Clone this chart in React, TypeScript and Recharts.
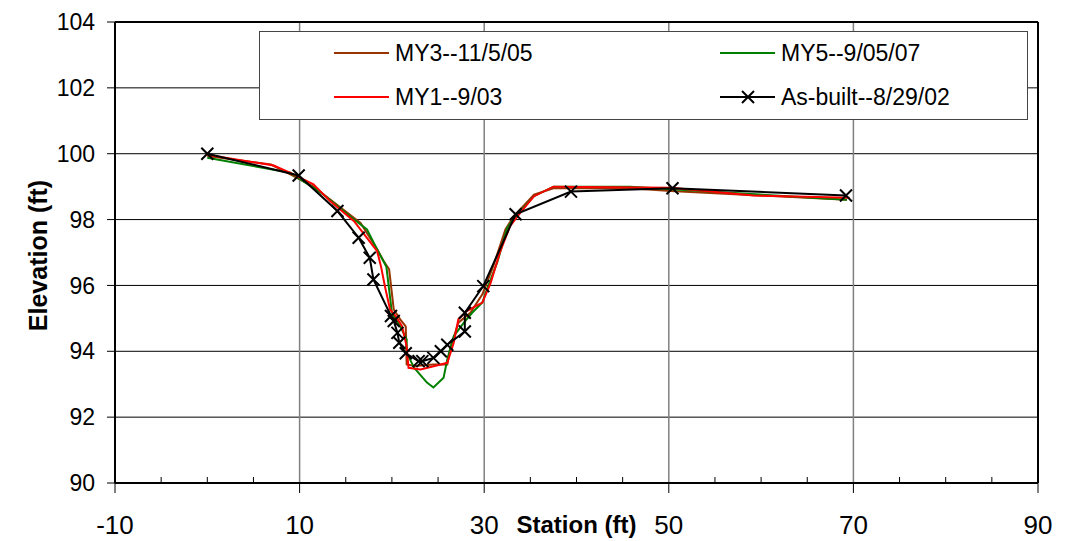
import React from "react";
import {
  LineChart,
  Line,
  XAxis,
  YAxis,
  CartesianGrid,
  ReferenceLine,
  Label,
} from "recharts";

// cross-section survey readings (station ft, elevation ft)
const my3X = [0, 6.9, 9.0, 11.5, 16.6, 18.4, 19.1, 19.7, 20.2, 20.9, 21.5, 21.6, 22.5, 24.5, 26.0, 26.3, 27.2, 28.5, 29.8, 31.0, 32.3, 33.2, 35.4, 37.5, 45.8, 50.2, 69.3];
const my3Y = [99.93, 99.67, 99.37, 99.0, 97.9, 97.1, 96.74, 96.49, 95.27, 94.97, 94.76, 93.6, 93.55, 93.6, 93.6, 94.06, 94.87, 95.17, 95.73, 96.6, 97.7, 98.1, 98.76, 98.95, 98.95, 98.87, 98.6];

const my5X = [0, 9.0, 12.3, 15.9, 17.3, 18.5, 19.4, 20.0, 20.9, 21.6, 21.6, 22.4, 23.8, 24.5, 25.6, 26.0, 26.7, 27.8, 28.7, 29.8, 30.3, 31.4, 32.5, 33.4, 35.4, 37.5, 45.8, 69.3];
const my5Y = [99.88, 99.42, 98.82, 98.0, 97.7, 97.04, 96.57, 95.17, 94.76, 94.36, 93.96, 93.5, 93.05, 92.9, 93.2, 93.75, 94.46, 94.87, 95.17, 95.48, 95.88, 96.69, 97.75, 98.1, 98.71, 99.0, 99.0, 98.6];

const my1X = [0, 7.2, 9.0, 11.5, 13.3, 15.9, 18.4, 18.8, 19.3, 19.8, 20.4, 21.1, 21.6, 21.8, 23.1, 25.3, 26.0, 26.7, 27.2, 28.1, 29.8, 30.7, 31.7, 32.8, 33.9, 35.4, 37.5, 50.2, 59.2, 69.6];
const my1Y = [99.97, 99.64, 99.42, 99.07, 98.56, 97.95, 97.04, 96.6, 95.9, 95.27, 95.07, 94.76, 94.15, 93.5, 93.45, 93.6, 93.65, 94.26, 94.97, 95.22, 95.48, 96.08, 97.0, 97.8, 98.2, 98.71, 99.0, 98.97, 98.73, 98.66];

const asBuiltX = [0, 9.9, 14.1, 16.4, 17.6, 18.0, 19.9, 20.2, 20.6, 20.8, 21.5, 22.9, 23.3, 24.5, 25.3, 26.0, 27.9, 27.9, 29.9, 33.4, 39.4, 50.4, 69.2];
const asBuiltY = [100.0, 99.34, 98.26, 97.45, 96.84, 96.18, 95.07, 94.92, 94.56, 94.26, 93.94, 93.7, 93.7, 93.8, 94.0, 94.2, 94.6, 95.17, 95.98, 98.16, 98.85, 98.95, 98.73];

const xTicks = [-10, -5, 0, 5, 10, 15, 20, 25, 30, 35, 40, 45, 50, 55, 60, 65, 70, 75, 80, 85, 90];
const xMajor = [-10, 10, 30, 50, 70, 90];
const yTicks = [90, 92, 94, 96, 98, 100, 102, 104];

const FONT = "'Liberation Sans', Arial, sans-serif";

const zip = (xs: number[], ys: number[]) => xs.map((x, i) => ({ x, y: ys[i] }));

const XTick = (props: any) => {
  const { x, y, payload } = props;
  const major = xMajor.includes(payload.value);
  if (!major) {
    return <line x1={x} x2={x} y1={y} y2={y - 6} stroke="#000" strokeWidth={1} />;
  }
  return (
    <g>
      <line x1={x} x2={x} y1={y} y2={y + 10} stroke="#000" strokeWidth={1} />
      <text x={x} y={y + 51} textAnchor="middle" fontSize={26} fill="#000" fontFamily={FONT}>
        {payload.value}
      </text>
    </g>
  );
};

const CrossDot = (props: any) => {
  const { cx, cy, index } = props;
  if (cx == null || cy == null) return <g key={index} />;
  const s = 6;
  return (
    <path
      key={index}
      d={`M${cx - s},${cy - s}L${cx + s},${cy + s}M${cx - s},${cy + s}L${cx + s},${cy - s}`}
      stroke="#000"
      strokeWidth={2}
      fill="none"
    />
  );
};

const legendItems = [
  { name: "MY3--11/5/05", color: "#993300", left: 334, top: 53, cross: false },
  { name: "MY5--9/05/07", color: "#008000", left: 720, top: 53, cross: false },
  { name: "MY1--9/03", color: "#ff0000", left: 334, top: 97, cross: false },
  { name: "As-built--8/29/02", color: "#000000", left: 720, top: 97, cross: true },
];

export default function App() {
  return (
    <div style={{ position: "absolute", left: 0, top: 0, width: 1075, height: 541, background: "#fff", fontFamily: FONT }}>
      <LineChart width={1075} height={541} margin={{ top: 22, right: 37, left: 0, bottom: 0 }}>
        <CartesianGrid vertical={false} stroke="#000" strokeWidth={1} />
        <CartesianGrid horizontal={false} verticalValues={[10, 30, 50, 70]} stroke="#808080" strokeWidth={1.5} />
        <XAxis
          dataKey="x"
          type="number"
          domain={[-10, 90]}
          ticks={xTicks}
          interval={0}
          height={58}
          tickSize={0}
          tickMargin={0}
          tickLine={false}
          axisLine={{ stroke: "#000", strokeWidth: 2 }}
          tick={<XTick />}
        >
          <Label
            content={(p: any) => {
              const vb = p.viewBox;
              return (
                <text x={vb.x + vb.width / 2} y={533} textAnchor="middle" fontSize={24} fontWeight="bold" fill="#000" fontFamily={FONT}>
                  Station (ft)
                </text>
              );
            }}
          />
        </XAxis>
        <YAxis
          type="number"
          domain={[90, 104]}
          ticks={yTicks}
          interval={0}
          width={115}
          tickSize={8}
          tickMargin={12}
          tickLine={{ stroke: "#000", strokeWidth: 1 }}
          axisLine={{ stroke: "#000", strokeWidth: 2 }}
          tick={{ fill: "#000", fontSize: 23, fontFamily: FONT }}
        >
          <Label
            content={(p: any) => {
              const vb = p.viewBox;
              const cy = vb.y + vb.height / 2 + 3;
              return (
                <text x={47} y={cy} transform={`rotate(-90 47 ${cy})`} textAnchor="middle" fontSize={25} fontWeight="bold" fill="#000" fontFamily={FONT}>
                  Elevation (ft)
                </text>
              );
            }}
          />
        </YAxis>
        <ReferenceLine y={104} stroke="#000" strokeWidth={2} />
        <ReferenceLine x={90} stroke="#000" strokeWidth={2} />
        <Line data={zip(my3X, my3Y)} dataKey="y" name="MY3--11/5/05" stroke="#993300" strokeWidth={2} dot={false} isAnimationActive={false} />
        <Line data={zip(my5X, my5Y)} dataKey="y" name="MY5--9/05/07" stroke="#008000" strokeWidth={2} dot={false} isAnimationActive={false} />
        <Line data={zip(my1X, my1Y)} dataKey="y" name="MY1--9/03" stroke="#ff0000" strokeWidth={2} dot={false} isAnimationActive={false} />
        <Line data={zip(asBuiltX, asBuiltY)} dataKey="y" name="As-built--8/29/02" stroke="#000" strokeWidth={2} dot={<CrossDot />} isAnimationActive={false} />
      </LineChart>
      <div
        style={{
          position: "absolute",
          left: 259,
          top: 31,
          width: 769,
          height: 89,
          boxSizing: "border-box",
          border: "1px solid #444",
          background: "#fff",
        }}
      />
      <svg width={1075} height={541} style={{ position: "absolute", left: 0, top: 0, pointerEvents: "none" }}>
        {legendItems.map((it) => (
          <g key={it.name}>
            <line x1={it.left} x2={it.left + 55} y1={it.top} y2={it.top} stroke={it.color} strokeWidth={2} />
            {it.cross && (
              <path
                d={`M${it.left + 22},${it.top - 6}L${it.left + 34},${it.top + 6}M${it.left + 22},${it.top + 6}L${it.left + 34},${it.top - 6}`}
                stroke="#000"
                strokeWidth={2}
              />
            )}
            <text x={it.left + 61} y={it.top} dominantBaseline="central" fontSize={23} fill="#000" fontFamily={FONT}>
              {it.name}
            </text>
          </g>
        ))}
      </svg>
    </div>
  );
}
